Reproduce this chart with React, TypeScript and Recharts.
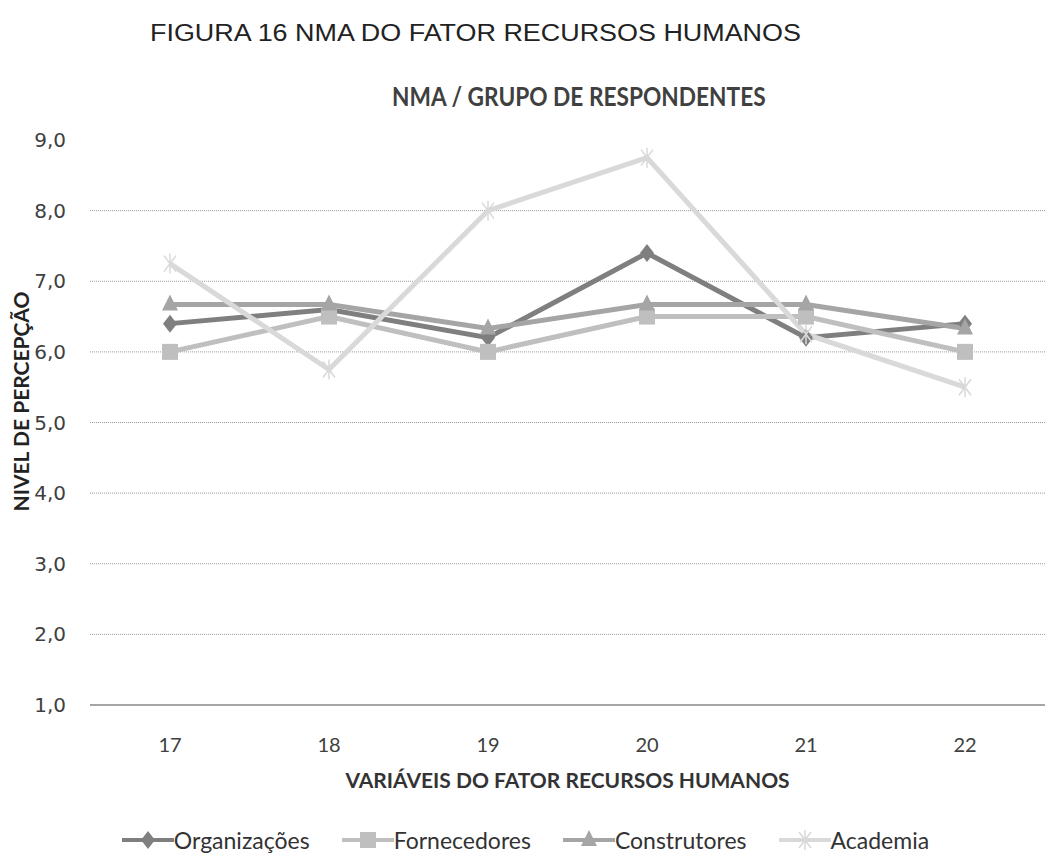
import { CartesianGrid, Legend, Line, LineChart, XAxis, YAxis } from "recharts";

const variaveis = ["17", "18", "19", "20", "21", "22"];
const organizacoes = [6.4, 6.6, 6.2, 7.4, 6.2, 6.4];
const fornecedores = [6.0, 6.5, 6.0, 6.5, 6.5, 6.0];
const construtores = [6.67, 6.67, 6.33, 6.67, 6.67, 6.33];
const academia = [7.25, 5.75, 8.0, 8.75, 6.25, 5.5];
const yTicks = [1, 2, 3, 4, 5, 6, 7, 8, 9];

const data = variaveis.map((v, i) => ({
  v,
  organizacoes: organizacoes[i],
  fornecedores: fornecedores[i],
  construtores: construtores[i],
  academia: academia[i]
}));

const SERIES = [
  { key: "organizacoes", name: "Organizações", color: "#7f7f7f", marker: "diamond" },
  { key: "fornecedores", name: "Fornecedores", color: "#bfbfbf", marker: "square" },
  { key: "construtores", name: "Construtores", color: "#a5a5a5", marker: "triangle" },
  { key: "academia", name: "Academia", color: "#d9d9d9", marker: "star" }
];

const LABEL_FONT = "Lato, 'Open Sans', sans-serif";

function Marker({ cx, cy, kind, color }: { cx: number; cy: number; kind: string; color: string }) {
  if (cx == null || cy == null) return null;
  if (kind === "diamond") {
    return <polygon points={`${cx},${cy - 9} ${cx + 7},${cy} ${cx},${cy + 9} ${cx - 7},${cy}`} fill={color} />;
  }
  if (kind === "square") {
    return <rect x={cx - 8} y={cy - 8} width={16} height={16} fill={color} />;
  }
  if (kind === "triangle") {
    return <polygon points={`${cx},${cy - 10} ${cx + 8},${cy + 6} ${cx - 8},${cy + 6}`} fill={color} />;
  }
  return (
    <g stroke={color} strokeWidth={1.5}>
      <line x1={cx - 6} y1={cy - 8} x2={cx + 6} y2={cy + 8} />
      <line x1={cx + 6} y1={cy - 8} x2={cx - 6} y2={cy + 8} />
      <line x1={cx} y1={cy - 10} x2={cx} y2={cy + 10} />
    </g>
  );
}

function LegendContent() {
  return (
    <div
      style={{
        display: "flex",
        justifyContent: "center",
        gap: 32,
        fontFamily: LABEL_FONT,
        fontSize: 23,
        color: "#333",
        paddingLeft: 6
      }}
    >
      {SERIES.map((s) => (
        <div key={s.key} style={{ display: "flex", alignItems: "center" }}>
          <svg width={52} height={22}>
            <line x1={0} y1={11} x2={52} y2={11} stroke={s.color} strokeWidth={4} />
            <Marker cx={26} cy={11} kind={s.marker} color={s.color} />
          </svg>
          <span>{s.name}</span>
        </div>
      ))}
    </div>
  );
}

export default function App() {
  return (
    <div style={{ position: "absolute", left: 0, top: 0, width: 1045, height: 856, background: "#fff" }}>
      <div
        style={{
          position: "absolute",
          left: 150,
          top: 20,
          fontFamily: "'Liberation Sans', Arial, sans-serif",
          fontSize: 23,
          color: "#222",
          whiteSpace: "nowrap",
          transform: "scaleX(1.17)",
          transformOrigin: "left center"
        }}
      >
        FIGURA 16 NMA DO FATOR RECURSOS HUMANOS
      </div>
      <div
        style={{
          position: "absolute",
          left: 360,
          width: 400,
          top: 79,
          textAlign: "center",
          fontFamily: LABEL_FONT,
          fontWeight: 700,
          fontSize: 27,
          color: "#404040",
          whiteSpace: "nowrap",
          transform: "scaleX(0.84)"
        }}
      >
        NMA / GRUPO DE RESPONDENTES
      </div>
      <LineChart
        width={1045}
        height={856}
        data={data}
        margin={{ top: 140, right: 0, left: 20, bottom: 0 }}
        style={{ position: "absolute", left: 0, top: 0 }}
      >
        <CartesianGrid
          vertical={false}
          horizontalValues={[2, 3, 4, 5, 6, 7, 8]}
          stroke="#9a9a9a"
          strokeDasharray="1 1"
        />
        <XAxis
          dataKey="v"
          height={123}
          padding={{ left: 80, right: 80 }}
          tickLine={false}
          axisLine={{ stroke: "#a6a6a6", strokeWidth: 2 }}
          tickMargin={27}
          tick={{ fontFamily: LABEL_FONT, fontSize: 20, fill: "#404040" }}
          label={{
            value: "VARIÁVEIS DO FATOR RECURSOS HUMANOS",
            position: "insideTop",
            offset: 68,
            style: { fontFamily: LABEL_FONT, fontSize: 21, fontWeight: 700, fill: "#333" }
          }}
        />
        <YAxis
          width={70}
          domain={[1, 9]}
          ticks={yTicks}
          interval={0}
          axisLine={false}
          tickLine={false}
          tickMargin={18}
          tickFormatter={(t: number) => t.toFixed(1).replace(".", ",")}
          tick={{ fontFamily: "'DejaVu Sans', sans-serif", fontSize: 20, fill: "#404040" }}
          label={{
            value: "NIVEL DE PERCEPÇÃO",
            angle: -90,
            position: "insideLeft",
            offset: 2,
            dy: -21,
            style: { fontFamily: LABEL_FONT, fontSize: 21, fontWeight: 700, fill: "#222", textAnchor: "middle" }
          }}
        />
        <Legend
          verticalAlign="bottom"
          content={<LegendContent />}
          wrapperStyle={{ left: 0, width: 1045, bottom: 2 }}
        />
        {SERIES.map((s) => (
          <Line
            key={s.key}
            dataKey={s.key}
            name={s.name}
            stroke={s.color}
            strokeWidth={5}
            isAnimationActive={false}
            dot={(p: any) => <Marker key={`${s.key}-${p.index}`} cx={p.cx} cy={p.cy} kind={s.marker} color={s.color} />}
            activeDot={false}
          />
        ))}
      </LineChart>
    </div>
  );
}
